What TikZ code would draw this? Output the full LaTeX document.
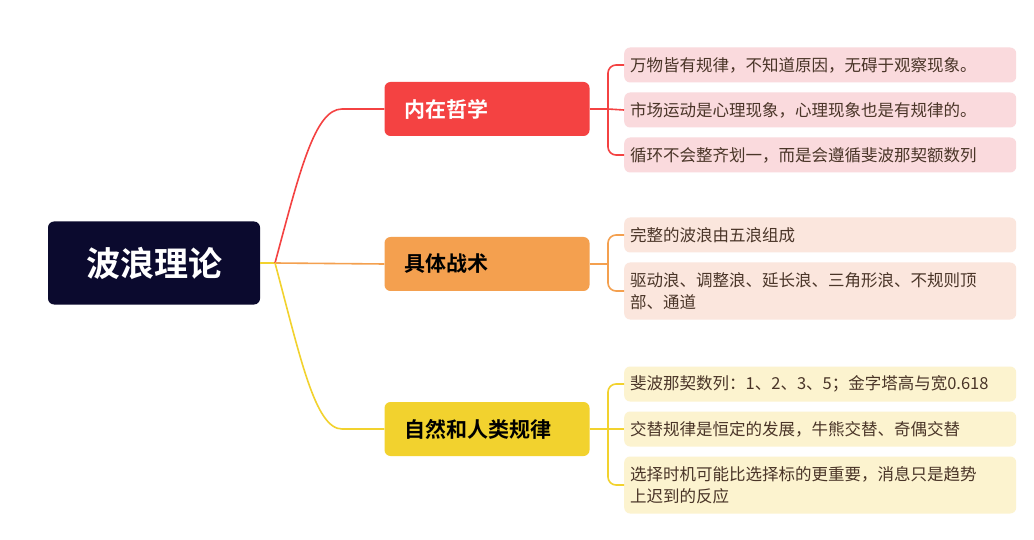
\documentclass[tikz,border=0pt]{standalone}
\usepackage{fontspec}
\setmainfont{Noto Sans CJK SC}[BoldFont={Noto Sans CJK SC Bold}]
\begin{document}
\begin{tikzpicture}[x=1pt,y=-1pt,
  leaf/.style={anchor=west,rounded corners=6pt,minimum width=392pt,text width=380pt,align=left,inner sep=6pt,font=\fontsize{16.5}{22}\selectfont,text=leaftext},
  br/.style={rounded corners=6pt,minimum width=205pt,minimum height=54pt,text width=165pt,align=left,font=\bfseries\fontsize{21}{24}\selectfont},
  con/.style={line width=1.6pt,rounded corners=8pt}]
\definecolor{rootc}{HTML}{0B0A2E}
\definecolor{redc}{HTML}{F44242}
\definecolor{orc}{HTML}{F4A04F}
\definecolor{yec}{HTML}{F2D22E}
\definecolor{redl}{HTML}{FADADD}
\definecolor{orl}{HTML}{FBE6DD}
\definecolor{yel}{HTML}{FCF3CF}
\definecolor{leaftext}{HTML}{4A3528}
\useasboundingbox (0,0) rectangle (1034,540);
\fill[white] (0,0) rectangle (1034,540);
\node[fill=rootc,rounded corners=6pt,minimum width=212pt,minimum height=83pt,text=white,font=\bfseries\fontsize{34}{40}\selectfont] (root) at (154,263) {波浪理论};
\node[br,fill=redc,text=white] (b1) at (487,109) {内在哲学};
\node[br,fill=orc,text=black] (b2) at (487,264) {具体战术};
\node[br,fill=yec,text=black] (b3) at (487,429) {自然和人类规律};
\coordinate (hub) at (275,263);
\draw[yec,line width=1.6pt] (root.east) -- (hub);
\draw[con,redc] (hub) .. controls (300,170) and (315,109) .. (350,109) -- (b1.west);
\draw[con,orc] (hub) -- (b2.west);
\draw[con,yec] (hub) .. controls (300,356) and (315,429) .. (350,429) -- (b3.west);
% leaves
\node[leaf,fill=redl,minimum height=35pt] (l1) at (624,65) {万物皆有规律，不知道原因，无碍于观察现象。};
\node[leaf,fill=redl,minimum height=35pt] (l2) at (624,110) {市场运动是心理现象，心理现象也是有规律的。};
\node[leaf,fill=redl,minimum height=35pt] (l3) at (624,155) {循环不会整齐划一，而是会遵循斐波那契额数列};
\node[leaf,fill=orl,minimum height=35pt] (l4) at (624,235) {完整的波浪由五浪组成};
\node[leaf,fill=orl,minimum height=57pt] (l5) at (624,291) {驱动浪、调整浪、延长浪、三角形浪、不规则顶\\部、通道};
\node[leaf,fill=yel,minimum height=35pt] (l6) at (624,384) {斐波那契数列：1、2、3、5；金字塔高与宽0.618};
\node[leaf,fill=yel,minimum height=35pt] (l7) at (624,429) {交替规律是恒定的发展，牛熊交替、奇偶交替};
\node[leaf,fill=yel,minimum height=57pt] (l8) at (624,485) {选择时机可能比选择标的更重要，消息只是趋势\\上迟到的反应};
\coordinate (j1) at (608,109);
\coordinate (j2) at (608,264);
\coordinate (j3) at (608,429);
\draw[con,redc] (b1.east) -- (j1);
\draw[con,redc] (l1.west) -| (j1) |- (l3.west);
\draw[con,redc] (j1) -- (l2.west);
\draw[con,orc] (b2.east) -- (j2);
\draw[con,orc] (l4.west) -| (j2) |- (l5.west);
\draw[con,yec] (b3.east) -- (j3);
\draw[con,yec] (l6.west) -| (j3) |- (l8.west);
\draw[con,yec] (j3) -- (l7.west);
\end{tikzpicture}
\end{document}
